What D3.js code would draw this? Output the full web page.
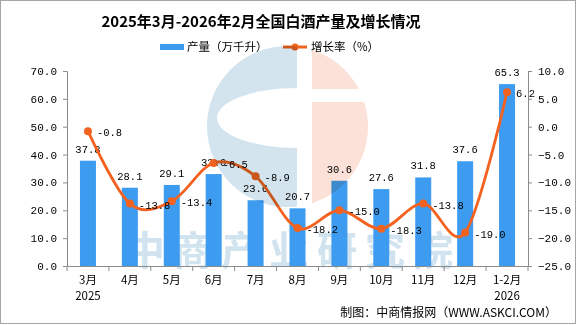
<!DOCTYPE html>
<html>
<head>
<meta charset="utf-8">
<script src="https://cdn.jsdelivr.net/npm/d3@7"></script>
<style>
  body { margin: 0; background: #fff; }
  svg { display: block; }
</style>
</head>
<body>
<svg width="576" height="325"></svg>
<script>
var months = ['3月', '4月', '5月', '6月', '7月', '8月', '9月', '10月', '11月', '12月', '1-2月'];
var years = ['2025', '', '', '', '', '', '', '', '', '', '2026'];
var output = [37.8, 28.1, 29.1, 33.0, 23.6, 20.7, 30.6, 27.6, 31.8, 37.6, 65.3];
var growth = [-0.8, -13.8, -13.4, -6.5, -8.9, -18.2, -15.0, -18.3, -13.8, -19.0, 6.2];
var leftTicks = [0, 10, 20, 30, 40, 50, 60, 70];
var rightTicks = [10, 5, 0, -5, -10, -15, -20, -25];

var svg = d3.select('svg');
var margin = { top: 71, right: 48, bottom: 59, left: 67 };
var width = +svg.attr('width') - margin.left - margin.right;
var height = +svg.attr('height') - margin.top - margin.bottom;

var cjk = '"Noto Sans CJK SC", "Noto Sans", sans-serif';
var mono = '"Liberation Mono", "DejaVu Sans Mono", monospace';
var barColor = '#3d9cf0';
var lineColor = '#f4621f';
var axisColor = '#8c8c8c';

svg.append('rect')
	.attr('x', 0.5).attr('y', 0.5)
	.attr('width', 575).attr('height', 323)
	.attr('fill', '#fff').attr('stroke', '#a6a6a6');

svg.append('text')
	.attr('x', 261).attr('y', 27)
	.attr('text-anchor', 'middle')
	.style('font-family', cjk).style('font-size', '15px').style('font-weight', 'bold')
	.text('2025年3月-2026年2月全国白酒产量及增长情况');

// legend
var legend = svg.append('g').style('font-family', cjk).style('font-size', '11.5px');
legend.append('rect').attr('x', 160).attr('y', 44).attr('width', 24).attr('height', 6).attr('fill', barColor);
legend.append('text').attr('x', 187).attr('y', 51).text('产量（万千升）');
legend.append('line').attr('x1', 283).attr('x2', 307).attr('y1', 47).attr('y2', 47)
	.attr('stroke', lineColor).attr('stroke-width', 3);
legend.append('circle').attr('cx', 295).attr('cy', 47).attr('r', 3.5).attr('fill', lineColor);
legend.append('text').attr('x', 311).attr('y', 51).text('增长率（%）');

var g = svg.append('g').attr('transform', `translate(${margin.left},${margin.top})`);

var x = d3.scaleBand().domain(months).range([0, width]).padding(0);
var y = d3.scaleLinear().domain([0, 70]).range([height, 0]);
var y2 = d3.scaleLinear().domain([-25, 10]).range([height, 0]);

// faint site name behind the bars
g.append('text')
	.attr('x', 226).attr('y', height - 1)
	.attr('text-anchor', 'middle')
	.style('font-family', cjk).style('font-size', '40px').style('font-weight', 'bold')
	.style('letter-spacing', '8px')
	.attr('fill', '#d0e3ef')
	.text('中商产业研究院');

var barW = 16;
g.selectAll('.bar')
	.data(output)
	.enter().append('rect')
	.attr('class', 'bar')
	.attr('x', (d, i) => x(months[i]) + x.bandwidth() / 2 - barW / 2)
	.attr('y', d => y(d))
	.attr('width', barW)
	.attr('height', d => height - y(d))
	.attr('fill', barColor);

g.selectAll('.bar-label')
	.data(output)
	.enter().append('text')
	.attr('x', (d, i) => x(months[i]) + x.bandwidth() / 2)
	.attr('y', d => y(d) - 8)
	.attr('text-anchor', 'middle')
	.style('font-family', mono).style('font-size', '10.5px')
	.text(d => d.toFixed(1));

var line = d3.line()
	.x((d, i) => x(months[i]) + x.bandwidth() / 2)
	.y(d => y2(d))
	.curve(d3.curveCardinal.tension(0));

g.append('path')
	.datum(growth)
	.attr('d', line)
	.attr('fill', 'none')
	.attr('stroke', lineColor)
	.attr('stroke-width', 2.8);

g.selectAll('.dot')
	.data(growth)
	.enter().append('circle')
	.attr('cx', (d, i) => x(months[i]) + x.bandwidth() / 2)
	.attr('cy', d => y2(d))
	.attr('r', 4)
	.attr('fill', lineColor);

g.selectAll('.dot-label')
	.data(growth)
	.enter().append('text')
	.attr('x', (d, i) => x(months[i]) + x.bandwidth() / 2 + 9)
	.attr('y', d => y2(d) + 5)
	.style('font-family', mono).style('font-size', '10.5px')
	.text(d => d.toFixed(1));

// axes
var xAxis = d3.axisBottom(x).tickSize(0).tickFormat('');
var yAxis = d3.axisLeft(y).tickValues(leftTicks).tickSize(4).tickPadding(6).tickFormat(d3.format('.1f'));
var y2Axis = d3.axisRight(y2).tickValues(rightTicks).tickSize(4).tickPadding(6).tickFormat(d3.format('.1f'));

g.append('g').attr('transform', `translate(0,${height})`).call(customXAxis);
g.append('g').call(customYAxis, yAxis);
g.append('g').attr('transform', `translate(${width},0)`).call(customYAxis, y2Axis);

function customXAxis(g) {
	g.call(xAxis);
	g.select('.domain').attr('stroke', axisColor);
	g.selectAll('.tick').remove();
	var bounds = months.map(m => x(m)).concat([width]);
	g.selectAll('.sep')
		.data(bounds)
		.enter().append('line')
		.attr('x1', d => d).attr('x2', d => d)
		.attr('y1', 0).attr('y2', 5)
		.attr('stroke', axisColor);
	var lab = g.selectAll('.lab')
		.data(months)
		.enter().append('text')
		.attr('x', d => x(d) + x.bandwidth() / 2)
		.attr('text-anchor', 'middle')
		.style('font-family', cjk).style('font-size', '11.5px')
		.attr('fill', '#000');
	lab.append('tspan').attr('x', d => x(d) + x.bandwidth() / 2).attr('y', 18).text(d => d);
	lab.append('tspan').attr('x', d => x(d) + x.bandwidth() / 2).attr('y', 34)
		.text((d, i) => years[i]);
}

function customYAxis(g, axis) {
	g.call(axis);
	g.select('.domain').attr('stroke', axisColor);
	g.selectAll('.tick line').attr('stroke', axisColor);
	g.selectAll('.tick text')
		.style('font-family', mono).style('font-size', '11px')
		.attr('fill', '#000');
}

svg.append('text')
	.attr('x', 557).attr('y', 317)
	.attr('text-anchor', 'end')
	.style('font-family', cjk).style('font-size', '12px')
	.text('制图：中商情报网（WWW.ASKCI.COM）');

// logo watermark laid over the plot
var defs = svg.append('defs');
defs.append('clipPath').attr('id', 'logo-left')
	.append('rect').attr('x', 0).attr('y', 0).attr('width', 297).attr('height', 325);
defs.append('clipPath').attr('id', 'logo-right')
	.append('rect').attr('x', 312).attr('y', 0).attr('width', 264).attr('height', 325);
var hole = defs.append('mask').attr('id', 'logo-hole');
hole.append('rect').attr('width', 576).attr('height', 325).attr('fill', '#fff');
hole.append('ellipse').attr('cx', 297).attr('cy', 118).attr('rx', 80).attr('ry', 30).attr('fill', '#000');
var gap = defs.append('mask').attr('id', 'logo-gap');
gap.append('rect').attr('width', 576).attr('height', 325).attr('fill', '#fff');
gap.append('rect').attr('x', 0).attr('y', 89).attr('width', 576).attr('height', 13).attr('fill', '#000');

var logo = svg.append('g').style('mix-blend-mode', 'multiply');
logo.append('g').attr('clip-path', 'url(#logo-left)').attr('mask', 'url(#logo-hole)')
	.append('circle').attr('cx', 287.5).attr('cy', 126.5).attr('r', 80.5).attr('fill', '#d3e4ef');
logo.append('g').attr('clip-path', 'url(#logo-right)').attr('mask', 'url(#logo-gap)')
	.append('circle').attr('cx', 287.5).attr('cy', 126.5).attr('r', 80.5).attr('fill', '#fbe1d7');
</script>
</body>
</html>
